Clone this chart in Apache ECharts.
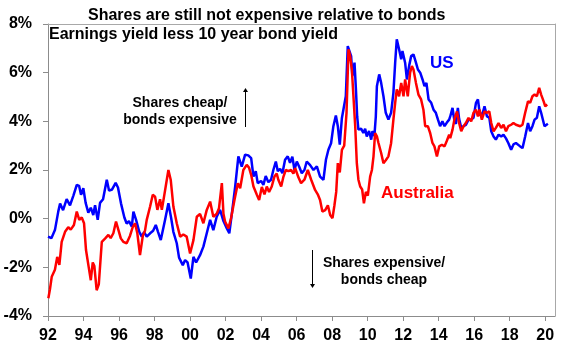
<!DOCTYPE html>
<html>
<head>
<meta charset="UTF-8">
<title>Shares vs bonds</title>
<style>
  html, body { margin: 0; padding: 0; background: #fff; }
  #chart { width: 570px; height: 353px; }
</style>
<script src="https://cdn.jsdelivr.net/npm/echarts@6/dist/echarts.min.js"></script>
</head>
<body>
<div id="chart"></div>
<script>
// x axis tick labels (years, shown as 2 digits)
var tickYears = [1992, 1994, 1996, 1998, 2000, 2002, 2004, 2006, 2008, 2010, 2012, 2014, 2016, 2018, 2020];

// US: earnings yield less 10 year bond yield (%)
var usYears = [
  1992.00, 1992.19, 1992.39, 1992.58, 1992.68, 1992.85, 1993.05, 1993.24, 1993.43, 1993.62,
  1993.75, 1993.86, 1993.99, 1994.12, 1994.27, 1994.41, 1994.55, 1994.65, 1994.80, 1994.93,
  1995.10, 1995.31, 1995.44, 1995.61, 1995.81, 1995.94, 1996.11, 1996.30, 1996.43, 1996.56,
  1996.72, 1996.81, 1996.96, 1997.14, 1997.28, 1997.41, 1997.56, 1997.75, 1997.92, 1998.07,
  1998.20, 1998.35, 1998.44, 1998.59, 1998.78, 1998.93, 1999.06, 1999.25, 1999.38, 1999.59,
  1999.72, 1999.86, 2000.04, 2000.19, 2000.34, 2000.56, 2000.75, 2000.94, 2001.13, 2001.31,
  2001.50, 2001.69, 2001.88, 2002.07, 2002.21, 2002.38, 2002.54, 2002.72, 2002.91, 2003.10,
  2003.28, 2003.44, 2003.57, 2003.70, 2003.81, 2004.00, 2004.13, 2004.26, 2004.41, 2004.56,
  2004.69, 2004.83, 2004.94, 2005.07, 2005.20, 2005.35, 2005.50, 2005.63, 2005.76, 2005.88,
  2006.01, 2006.14, 2006.29, 2006.44, 2006.57, 2006.76, 2006.95, 2007.14, 2007.32, 2007.51,
  2007.65, 2007.79, 2007.94, 2008.07, 2008.21, 2008.32, 2008.43, 2008.55, 2008.66, 2008.77,
  2008.88, 2008.92, 2009.07, 2009.14, 2009.26, 2009.34, 2009.41, 2009.48, 2009.63, 2009.76,
  2009.86, 2009.95, 2010.08, 2010.20, 2010.27, 2010.38, 2010.46, 2010.52, 2010.65, 2010.76,
  2010.89, 2011.02, 2011.17, 2011.32, 2011.45, 2011.55, 2011.64, 2011.77, 2011.89, 2011.96,
  2012.11, 2012.21, 2012.34, 2012.45, 2012.58, 2012.72, 2012.83, 2012.96, 2013.09, 2013.20,
  2013.31, 2013.43, 2013.58, 2013.71, 2013.84, 2013.96, 2014.08, 2014.21, 2014.33, 2014.46,
  2014.59, 2014.65, 2014.78, 2014.89, 2014.97, 2015.08, 2015.15, 2015.27, 2015.40, 2015.53,
  2015.68, 2015.83, 2015.96, 2016.10, 2016.21, 2016.30, 2016.43, 2016.58, 2016.72, 2016.85,
  2016.96, 2017.09, 2017.22, 2017.37, 2017.52, 2017.65, 2017.79, 2017.92, 2018.08, 2018.21,
  2018.35, 2018.46, 2018.59, 2018.72, 2018.87, 2019.03, 2019.15, 2019.28, 2019.40, 2019.53,
  2019.66, 2019.77, 2019.87, 2019.96, 2020.07, 2020.15
];
var usValues = [
  -0.74, -0.80, -0.47, 0.30, 0.62, 0.35, 0.80, 0.55, 0.95, 1.39,
  1.35, 0.98, 1.25, 0.65, 0.25, 0.45, 0.15, 0.55, -0.05, 0.65,
  0.80, 1.60, 1.15, 1.20, 1.47, 1.28, 0.63, 0.05, -0.20, -0.10,
  -0.33, 0.29, -0.05, -0.54, -0.74, -0.55, -0.74, -0.60, -0.50, -0.26,
  -0.55, -0.88, -0.95, -0.05, 0.63, 0.05, -0.54, -1.01, -1.60, -1.91,
  -1.70, -1.80, -2.46, -1.57, -1.80, -1.50, -1.15, -0.60, -0.05, -0.47,
  0.08, 0.36, -0.10, -0.40, -0.60, 0.36, 1.32, 2.56, 2.14, 2.63,
  2.60, 2.49, 1.73, 1.95, 1.46, 1.55, 1.39, 1.75, 1.50, 1.60,
  2.00, 2.35, 1.95, 2.05, 1.87, 2.42, 2.56, 2.30, 2.55, 2.00,
  2.35, 2.14, 1.87, 2.00, 2.35, 2.20, 2.00, 2.15, 1.73, 1.60,
  2.42, 2.83, 3.10, 3.80, 4.24, 3.80, 3.04, 4.14, 4.14, 5.03,
  7.09, 7.16, 6.68, 5.86, 6.41, 5.31, 4.20, 3.66, 3.70, 3.52,
  3.70, 3.38, 3.60, 3.25, 3.60, 3.40, 4.20, 5.44, 5.93, 5.58,
  5.03, 4.35, 4.07, 4.35, 5.17, 6.41, 7.37, 6.96, 6.55, 6.89,
  6.41, 5.72, 6.30, 6.68, 6.75, 6.41, 6.13, 6.00, 5.72, 5.45,
  5.58, 4.90, 4.76, 4.48, 4.35, 4.07, 3.80, 4.00, 3.80, 3.95,
  4.07, 4.20, 4.55, 4.00, 3.90, 4.55, 4.10, 3.73, 3.80, 3.85,
  4.07, 4.07, 4.15, 4.76, 4.90, 4.40, 4.20, 4.62, 4.20, 4.15,
  3.59, 3.38, 3.25, 3.45, 3.38, 3.45, 3.30, 3.11, 2.83, 3.05,
  3.11, 3.18, 2.97, 2.90, 3.38, 3.93, 3.59, 3.80, 4.07, 4.15,
  4.62, 4.35, 4.40, 3.80, 3.73, 3.90
];

// Australia: earnings yield less 10 year bond yield (%)
var auYears = [
  1992.02, 1992.11, 1992.21, 1992.39, 1992.52, 1992.64, 1992.77, 1992.96, 1993.14, 1993.28,
  1993.46, 1993.62, 1993.76, 1993.90, 1994.03, 1994.14, 1994.29, 1994.41, 1994.52, 1994.61,
  1994.74, 1994.86, 1995.03, 1995.21, 1995.40, 1995.53, 1995.68, 1995.83, 1995.96, 1996.10,
  1996.24, 1996.43, 1996.62, 1996.77, 1996.90, 1997.03, 1997.18, 1997.34, 1997.46, 1997.56,
  1997.75, 1997.90, 1998.03, 1998.16, 1998.31, 1998.41, 1998.50, 1998.69, 1998.78, 1998.91,
  1999.06, 1999.25, 1999.44, 1999.62, 1999.81, 2000.00, 2000.19, 2000.38, 2000.56, 2000.75,
  2000.94, 2001.13, 2001.31, 2001.50, 2001.63, 2001.79, 2001.88, 2001.97, 2002.16, 2002.31,
  2002.50, 2002.69, 2002.82, 2003.00, 2003.19, 2003.32, 2003.44, 2003.57, 2003.76, 2003.89,
  2004.04, 2004.19, 2004.32, 2004.45, 2004.60, 2004.75, 2004.88, 2004.97, 2005.13, 2005.26,
  2005.39, 2005.54, 2005.69, 2005.82, 2005.92, 2006.10, 2006.25, 2006.44, 2006.63, 2006.82,
  2007.04, 2007.19, 2007.32, 2007.45, 2007.61, 2007.76, 2007.89, 2008.02, 2008.13, 2008.23,
  2008.32, 2008.43, 2008.55, 2008.68, 2008.81, 2008.92, 2009.01, 2009.11, 2009.20, 2009.30,
  2009.39, 2009.48, 2009.58, 2009.69, 2009.79, 2009.90, 2010.01, 2010.14, 2010.24, 2010.33,
  2010.42, 2010.52, 2010.61, 2010.76, 2010.89, 2011.02, 2011.17, 2011.32, 2011.45, 2011.55,
  2011.64, 2011.77, 2011.89, 2012.02, 2012.11, 2012.26, 2012.39, 2012.49, 2012.58, 2012.72,
  2012.86, 2013.01, 2013.14, 2013.24, 2013.39, 2013.52, 2013.65, 2013.76, 2013.90, 2014.03,
  2014.18, 2014.33, 2014.46, 2014.59, 2014.65, 2014.78, 2014.89, 2015.03, 2015.15, 2015.27,
  2015.40, 2015.53, 2015.68, 2015.83, 2015.96, 2016.10, 2016.21, 2016.30, 2016.43, 2016.58,
  2016.72, 2016.85, 2016.96, 2017.09, 2017.22, 2017.37, 2017.52, 2017.65, 2017.79, 2017.92,
  2018.08, 2018.21, 2018.35, 2018.46, 2018.59, 2018.72, 2018.87, 2019.03, 2019.15, 2019.28,
  2019.40, 2019.53, 2019.66, 2019.77, 2019.91, 2020.00, 2020.11
];
var auValues = [
  -3.27, -2.90, -2.39, -2.10, -1.57, -1.90, -0.95, -0.54, -0.35, -0.45,
  -0.26, 0.29, -0.05, 0.05, -0.19, -1.29, -1.98, -2.53, -1.80, -1.95,
  -2.94, -2.70, -0.95, -0.82, -0.67, -0.80, -0.60, -0.12, -0.45, -0.81,
  -0.95, -1.01, -0.70, -0.35, -0.19, -0.60, -1.50, -0.70, -0.50, -0.05,
  0.50, 0.98, 0.90, 0.36, 0.80, 0.36, 0.75, 1.60, 2.00, 1.60,
  0.50, -0.19, -0.74, -0.65, -0.74, -1.43, -0.88, 0.08, 0.20, -0.19,
  0.36, 0.70, 0.08, 0.20, 0.43, 1.46, 0.20, -0.12, -0.40, 0.03,
  0.77, 1.46, 1.25, 2.00, 2.21, 2.10, 1.80, 1.32, 0.98, 0.77,
  1.30, 1.00, 1.32, 1.10, 1.32, 1.73, 1.85, 1.60, 1.32, 1.73,
  2.00, 1.95, 2.00, 1.85, 2.08, 1.70, 1.46, 1.60, 2.00, 1.60,
  1.18, 1.00, 0.77, 0.29, 0.35, 0.55, 0.15, 0.02, 0.55, 1.10,
  2.28, 1.90, 2.83, 3.00, 4.35, 6.96, 6.70, 6.13, 5.03, 3.80,
  2.28, 1.60, 1.32, 1.20, 0.63, 1.10, 0.95, 1.73, 2.00, 2.56,
  3.52, 3.38, 3.11, 2.70, 2.28, 2.40, 2.56, 3.10, 4.07, 4.76,
  5.31, 5.03, 5.58, 5.03, 5.72, 5.03, 6.00, 6.27, 6.13, 5.58,
  5.10, 4.90, 4.48, 3.80, 3.80, 3.52, 3.11, 2.97, 2.56, 2.97,
  3.04, 2.97, 3.20, 3.45, 3.31, 3.66, 4.10, 4.41, 3.93, 3.59,
  3.80, 3.93, 4.14, 4.00, 4.35, 4.48, 4.20, 4.48, 4.07, 4.41,
  4.35, 4.41, 3.93, 3.59, 3.73, 3.93, 3.73, 3.86, 3.59, 3.80,
  3.86, 3.93, 3.86, 3.93, 3.80, 3.86, 4.35, 4.82, 4.76, 5.03,
  5.10, 5.03, 5.38, 5.10, 4.82, 4.62, 4.69
];

function pairs(xs, ys) {
  return xs.map(function (x, i) { return [x, ys[i]]; });
}

var FONT = 'Liberation Sans, Arial, sans-serif';
var AXIS_GREY = '#8c8c8c';
var chart = echarts.init(document.getElementById('chart'), null, { renderer: 'canvas' });

var option = {
  animation: false,
  backgroundColor: '#fff',
  title: {
    text: 'Shares are still not expensive relative to bonds',
    left: 83,
    top: 3,
    textStyle: { fontFamily: FONT, fontSize: 16, fontWeight: 'bold', color: '#000' }
  },
  grid: {
    left: 48, right: 15, top: 24, bottom: 37,
    containLabel: false, outerBoundsMode: 'none'
  },
  xAxis: [{
    type: 'value',
    min: 1992, max: 2020.55, interval: 2,
    splitLine: { show: false },
    axisLine: { show: true, onZero: false, lineStyle: { color: AXIS_GREY, width: 1 } },
    axisTick: { show: true, length: 5, lineStyle: { color: AXIS_GREY }, customValues: tickYears },
    axisLabel: {
      customValues: tickYears,
      margin: 12,
      color: '#000', fontFamily: FONT, fontSize: 16, fontWeight: 'bold',
      formatter: function (v) { var s = String(Math.round(v) % 100); return s.length < 2 ? '0' + s : s; }
    }
  }, {
    // top edge of the plot frame
    type: 'value', position: 'top', min: 1992, max: 2020.55,
    axisLine: { show: true, onZero: false, lineStyle: { color: '#a8a8a8', width: 1 } },
    axisTick: { show: false }, axisLabel: { show: false }, splitLine: { show: false }
  }],
  yAxis: [{
    type: 'value',
    min: -4, max: 8, interval: 2,
    splitLine: { show: false },
    axisLine: { show: true, onZero: false, lineStyle: { color: AXIS_GREY, width: 1 } },
    axisTick: { show: true, length: 5, lineStyle: { color: AXIS_GREY } },
    axisLabel: {
      margin: 16,
      color: '#000', fontFamily: FONT, fontSize: 16, fontWeight: 'bold',
      formatter: function (v) { return v + '%'; }
    }
  }, {
    // right edge of the plot frame
    type: 'value', position: 'right', min: -4, max: 8,
    axisLine: { show: true, onZero: false, lineStyle: { color: '#a8a8a8', width: 1 } },
    axisTick: { show: false }, axisLabel: { show: false }, splitLine: { show: false }
  }],
  series: [
    {
      name: 'US', type: 'line', showSymbol: false,
      data: pairs(usYears, usValues),
      lineStyle: { color: '#0000ff', width: 2.5 }, itemStyle: { color: '#0000ff' }
    },
    {
      name: 'Australia', type: 'line', showSymbol: false,
      data: pairs(auYears, auValues),
      lineStyle: { color: '#ff0000', width: 2.5 }, itemStyle: { color: '#ff0000' }
    }
  ],
  graphic: [
    { type: 'text', left: 49, top: 27,
      style: { text: 'Earnings yield less 10 year bond yield', font: 'bold 16px ' + FONT, fill: '#000' } },
    { type: 'text', x: 430, y: 63,
      style: { text: 'US', font: 'bold 17px ' + FONT, fill: '#0000ff', textVerticalAlign: 'middle' } },
    { type: 'text', x: 381, y: 193,
      style: { text: 'Australia', font: 'bold 17px ' + FONT, fill: '#ff0000', textVerticalAlign: 'middle' } },
    { type: 'text', x: 180, y: 112,
      style: { text: 'Shares cheap/\nbonds expensive', font: 'bold 14px ' + FONT, fill: '#000',
               textAlign: 'center', textVerticalAlign: 'middle', lineHeight: 17 } },
    { type: 'text', x: 384, y: 272,
      style: { text: 'Shares expensive/\nbonds cheap', font: 'bold 14px ' + FONT, fill: '#000',
               textAlign: 'center', textVerticalAlign: 'middle', lineHeight: 17 } },
    // up arrow
    { type: 'line', shape: { x1: 245.5, y1: 127, x2: 245.5, y2: 91 }, style: { stroke: '#000', lineWidth: 1 } },
    { type: 'polygon', shape: { points: [[243, 92], [248, 92], [245.5, 88]] }, style: { fill: '#000' } },
    // down arrow
    { type: 'line', shape: { x1: 312.5, y1: 250, x2: 312.5, y2: 285 }, style: { stroke: '#000', lineWidth: 1 } },
    { type: 'polygon', shape: { points: [[310, 284], [315, 284], [312.5, 288]] }, style: { fill: '#000' } }
  ]
};

chart.setOption(option);
</script>
</body>
</html>
